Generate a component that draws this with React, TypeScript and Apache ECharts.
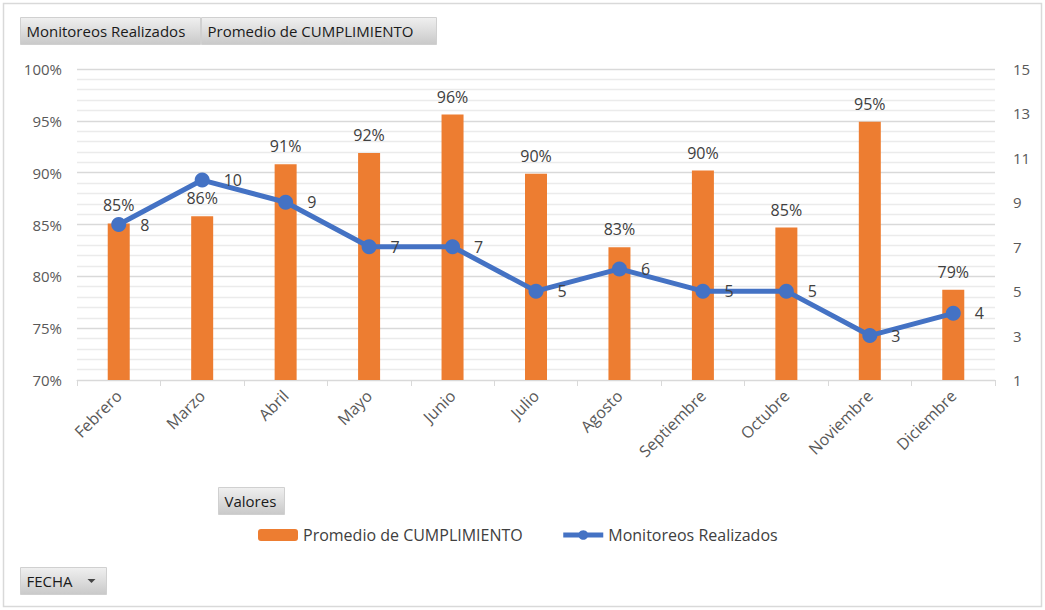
import React, { useEffect, useRef } from "react";
import * as echarts from "echarts";

const months = ["Febrero", "Marzo", "Abril", "Mayo", "Junio", "Julio", "Agosto", "Septiembre", "Octubre", "Noviembre", "Diciembre"];
const cumplimiento = [85.1, 85.8, 90.8, 91.9, 95.6, 89.9, 82.8, 90.2, 84.7, 94.9, 78.7];
const monitoreos = [8, 10, 9, 7, 7, 5, 6, 5, 5, 3, 4];
const leftTicks = { min: 70, max: 100, interval: 5 };
const rightTicks = { min: 1, max: 15, interval: 2 };

const FONT = "'Open Sans', sans-serif";

function button(x: number, y: number, w: number, h: number, text: string, arrow = false): any {
  const children: any[] = [
    {
      type: "rect",
      shape: { x, y, width: w, height: h },
      style: {
        fill: new echarts.graphic.LinearGradient(0, 0, 0, 1, [
          { offset: 0, color: "#f0f0f0" },
          { offset: 1, color: "#c9c9c9" },
        ]),
        stroke: "#d0d0d0",
        lineWidth: 1,
      },
    },
    {
      type: "text",
      x: x + 6,
      y: y + h / 2,
      style: { text, fill: "#1a1a1a", font: `15px ${FONT}`, verticalAlign: "middle" },
    },
  ];
  if (arrow) {
    children.push({
      type: "polygon",
      shape: { points: [[x + w - 19, y + h / 2 - 2], [x + w - 11, y + h / 2 - 2], [x + w - 15, y + h / 2 + 2]] },
      style: { fill: "#444" },
    });
  }
  return { type: "group", children };
}

export default function App() {
  const ref = useRef<HTMLDivElement>(null);
  useEffect(() => {
    if (!ref.current) return;
    const chart = echarts.init(ref.current, undefined, { renderer: "svg" });
    chart.setOption({
      animation: false,
      backgroundColor: "#ffffff",
      textStyle: { fontFamily: FONT },
      grid: { left: 77, right: 50, top: 69, bottom: 230 },
      legend: {
        left: 253,
        top: 522,
        itemWidth: 40,
        itemHeight: 12,
        itemGap: 38,
        textStyle: { color: "#404040", fontSize: 16, fontFamily: FONT, padding: [0, 0, 0, 0] },
        lineStyle: { width: 5 },
        data: [
          { name: "Promedio de CUMPLIMIENTO" },
          { name: "Monitoreos Realizados" },
        ],
      },
      xAxis: {
        type: "category",
        data: months,
        axisLine: { lineStyle: { color: "#d9d9d9" } },
        axisTick: { show: true, length: 6, lineStyle: { color: "#d9d9d9" } },
        axisLabel: { rotate: 45, color: "#595959", fontSize: 16, margin: 13, fontFamily: FONT },
      },
      yAxis: [
        {
          type: "value",
          min: leftTicks.min,
          max: leftTicks.max,
          interval: leftTicks.interval,
          axisLabel: { formatter: "{value}%", color: "#595959", fontSize: 15, margin: 15, fontFamily: FONT },
          axisLine: { show: false },
          axisTick: { show: false },
          splitLine: { show: true, lineStyle: { color: "#d9d9d9", width: 1.3 } },
          minorTick: { show: false, splitNumber: 5 },
          minorSplitLine: { show: true, lineStyle: { color: "#ebebeb", width: 1.3 } },
        },
        {
          type: "value",
          min: rightTicks.min,
          max: rightTicks.max,
          interval: rightTicks.interval,
          axisLabel: { color: "#595959", fontSize: 15, margin: 18, fontFamily: FONT },
          axisLine: { show: false },
          axisTick: { show: false },
          splitLine: { show: false },
        },
      ],
      series: [
        {
          name: "Promedio de CUMPLIMIENTO",
          type: "bar",
          data: cumplimiento,
          barWidth: 22,
          itemStyle: { color: "#ed7d31" },
          label: {
            show: true,
            position: "top",
            distance: 10,
            color: "#404040",
            fontSize: 16,
            fontFamily: FONT,
            formatter: (p: any) => Math.round(p.value) + "%",
          },
        },
        {
          name: "Monitoreos Realizados",
          type: "line",
          yAxisIndex: 1,
          data: monitoreos,
          symbol: "circle",
          symbolSize: 15,
          lineStyle: { color: "#4472c4", width: 5 },
          itemStyle: { color: "#4472c4" },
          label: {
            show: true,
            position: "right",
            distance: 14,
            color: "#404040",
            fontSize: 16,
            fontFamily: FONT,
          },
        },
      ],
      graphic: [
        {
          type: "rect",
          shape: { x: 3.5, y: 3.5, width: 1038, height: 603 },
          style: { fill: "none", stroke: "#d9d9d9", lineWidth: 1.5 },
          silent: true,
        },
        button(20.5, 17.5, 180, 27, "Monitoreos Realizados"),
        button(201.5, 17.5, 235, 27, "Promedio de CUMPLIMIENTO"),
        button(218.5, 487.5, 66, 27, "Valores"),
        button(20.5, 567.5, 86, 27, "FECHA", true),
      ],
    });
    return () => chart.dispose();
  }, []);
  return <div ref={ref} style={{ position: "fixed", left: 0, top: 0, width: 1045, height: 610 }} />;
}
